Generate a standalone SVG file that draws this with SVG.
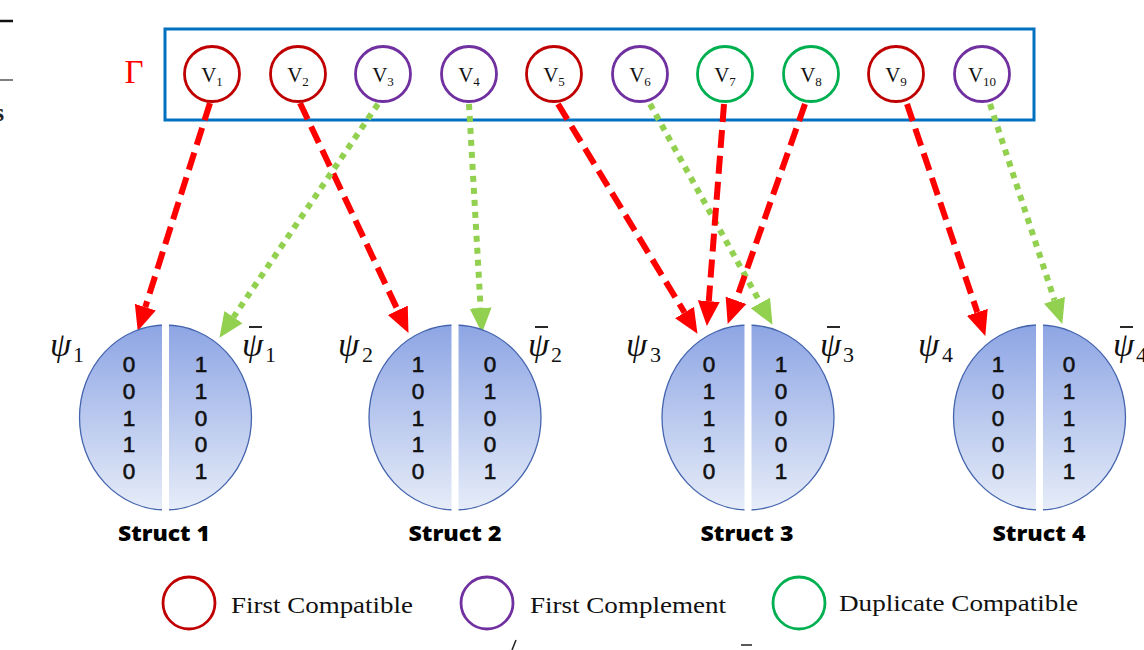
<svg xmlns="http://www.w3.org/2000/svg" width="1144" height="650" viewBox="0 0 1144 650">
<defs>
<linearGradient id="g" x1="0" y1="0" x2="0" y2="1">
<stop offset="0" stop-color="#8DA5E4"/>
<stop offset="1" stop-color="#E6ECF8"/>
</linearGradient>
<marker id="ar" markerUnits="userSpaceOnUse" markerWidth="26" markerHeight="24" viewBox="0 -12 26 24" refX="0" refY="0" orient="auto">
<path d="M0,-11 L25,0 L0,11 z" fill="#FF0000"/>
</marker>
<marker id="ag" markerUnits="userSpaceOnUse" markerWidth="26" markerHeight="24" viewBox="0 -12 26 24" refX="0" refY="0" orient="auto">
<path d="M0,-11 L25,0 L0,11 z" fill="#92D050"/>
</marker>
</defs>
<style>
.vn{fill:#fff;stroke-width:2.8}
.red{stroke:#C00000}
.pur{stroke:#7030A0}
.grn{stroke:#00B050}
.vt{font-family:"Liberation Serif",serif;font-size:21px;fill:#111}
.vs{font-size:13px}
.ra{stroke:#FF0000;stroke-width:6;stroke-dasharray:18 8;fill:none;marker-end:url(#ar)}
.ga{stroke:#92D050;stroke-width:6;stroke-dasharray:6 6;fill:none;marker-end:url(#ag)}
.ell{fill:url(#g);stroke:#4565AE;stroke-width:1.3}
.gap{fill:#fff}
.dg{font-family:"Liberation Sans",sans-serif;font-size:22.5px;fill:#111;stroke:#111;stroke-width:0.6;text-anchor:middle}
.sl{font-family:"Open Sans","Liberation Sans",sans-serif;font-size:21px;font-weight:800;fill:#000;text-anchor:middle}
.psi{font-family:"Liberation Serif","DejaVu Serif",serif;font-style:italic;font-size:34px;fill:#111}
.sub{font-family:"Liberation Serif",serif;font-size:22px;fill:#111}
.bar{stroke:#111;stroke-width:1.8}
.lg{font-family:"Liberation Serif",serif;font-size:23px;fill:#111}
</style>

<!-- page artifacts at the edges -->
<line x1="0" y1="21" x2="13" y2="21" stroke="#111" stroke-width="2.5"/>
<line x1="0" y1="80" x2="13" y2="80" stroke="#555" stroke-width="1.5"/>
<text x="-6" y="121" font-family="Liberation Serif,serif" font-size="26" font-weight="bold" fill="#222">s</text>
<line x1="516" y1="640" x2="512" y2="650" stroke="#222" stroke-width="1.5"/>
<line x1="741" y1="645" x2="752" y2="645" stroke="#222" stroke-width="1.5"/>

<!-- Gamma container -->
<g id="gamma">
<text x="134" y="83" text-anchor="middle" font-family="Liberation Serif,serif" font-size="33" fill="#FF0000">Γ</text>
<rect x="165" y="29" width="869" height="91" fill="none" stroke="#0070C0" stroke-width="3"/>
</g>

<!-- connectors -->
<g id="connectors">
<line class="ra" x1="210" y1="103" x2="145.3" y2="307.1"/>
<line class="ra" x1="300" y1="103" x2="397.8" y2="310.3"/>
<line class="ga" x1="378" y1="104" x2="233.5" y2="317.1"/>
<line class="ga" x1="469" y1="104" x2="480.6" y2="308"/>
<line class="ra" x1="558" y1="104" x2="684.5" y2="312.5"/>
<line class="ga" x1="650" y1="104" x2="760.4" y2="303"/>
<line class="ra" x1="724" y1="104" x2="708.8" y2="301.1"/>
<line class="ra" x1="805" y1="104" x2="736" y2="300.3"/>
<line class="ra" x1="907" y1="104" x2="977.3" y2="312.3"/>
<line class="ga" x1="990" y1="104" x2="1054.5" y2="300.2"/>
</g>

<!-- V nodes -->
<g id="v1"><circle class="vn red" cx="212" cy="74" r="27.5"/><text class="vt" x="212" y="82" text-anchor="middle">V<tspan class="vs" dy="4">1</tspan></text></g>
<g id="v2"><circle class="vn red" cx="298" cy="74" r="27.5"/><text class="vt" x="298" y="82" text-anchor="middle">V<tspan class="vs" dy="4">2</tspan></text></g>
<g id="v3"><circle class="vn pur" cx="383" cy="74" r="27.5"/><text class="vt" x="383" y="82" text-anchor="middle">V<tspan class="vs" dy="4">3</tspan></text></g>
<g id="v4"><circle class="vn pur" cx="469" cy="74" r="27.5"/><text class="vt" x="469" y="82" text-anchor="middle">V<tspan class="vs" dy="4">4</tspan></text></g>
<g id="v5"><circle class="vn red" cx="554" cy="74" r="27.5"/><text class="vt" x="554" y="82" text-anchor="middle">V<tspan class="vs" dy="4">5</tspan></text></g>
<g id="v6"><circle class="vn pur" cx="640" cy="74" r="27.5"/><text class="vt" x="640" y="82" text-anchor="middle">V<tspan class="vs" dy="4">6</tspan></text></g>
<g id="v7"><circle class="vn grn" cx="725" cy="74" r="27.5"/><text class="vt" x="725" y="82" text-anchor="middle">V<tspan class="vs" dy="4">7</tspan></text></g>
<g id="v8"><circle class="vn grn" cx="811" cy="74" r="27.5"/><text class="vt" x="811" y="82" text-anchor="middle">V<tspan class="vs" dy="4">8</tspan></text></g>
<g id="v9"><circle class="vn red" cx="896" cy="74" r="27.5"/><text class="vt" x="896" y="82" text-anchor="middle">V<tspan class="vs" dy="4">9</tspan></text></g>
<g id="v10"><circle class="vn pur" cx="982" cy="74" r="27.5"/><text class="vt" x="982" y="82" text-anchor="middle">V<tspan class="vs" dy="4">10</tspan></text></g>

<!-- Struct 1 -->
<g id="struct1">
<ellipse class="ell" cx="165.5" cy="417.5" rx="86" ry="92.5"/>
<rect class="gap" x="162" y="314" width="7" height="202"/>
<text class="dg"><tspan x="129" y="372">0</tspan><tspan x="129" y="399">0</tspan><tspan x="129" y="425.5">1</tspan><tspan x="129" y="452">1</tspan><tspan x="129" y="479">0</tspan></text>
<text class="dg"><tspan x="201" y="372">1</tspan><tspan x="201" y="399">1</tspan><tspan x="201" y="425.5">0</tspan><tspan x="201" y="452">0</tspan><tspan x="201" y="479">1</tspan></text>
<text class="psi" x="50" y="356">ψ</text><text class="sub" x="73" y="362">1</text>
<line class="bar" x1="249" y1="327" x2="262" y2="327"/>
<text class="psi" x="242" y="356">ψ</text><text class="sub" x="265" y="362">1</text>
<text class="sl" x="164" y="541" textLength="92" lengthAdjust="spacingAndGlyphs">Struct 1</text>
</g>

<!-- Struct 2 -->
<g id="struct2">
<ellipse class="ell" cx="455" cy="417.5" rx="86" ry="92.5"/>
<rect class="gap" x="451.5" y="314" width="7" height="202"/>
<text class="dg"><tspan x="418" y="372">1</tspan><tspan x="418" y="399">0</tspan><tspan x="418" y="425.5">1</tspan><tspan x="418" y="452">1</tspan><tspan x="418" y="479">0</tspan></text>
<text class="dg"><tspan x="490" y="372">0</tspan><tspan x="490" y="399">1</tspan><tspan x="490" y="425.5">0</tspan><tspan x="490" y="452">0</tspan><tspan x="490" y="479">1</tspan></text>
<text class="psi" x="338" y="356">ψ</text><text class="sub" x="362" y="362">2</text>
<line class="bar" x1="535" y1="327" x2="548" y2="327"/>
<text class="psi" x="528" y="356">ψ</text><text class="sub" x="551" y="362">2</text>
<text class="sl" x="455" y="541" textLength="93" lengthAdjust="spacingAndGlyphs">Struct 2</text>
</g>

<!-- Struct 3 -->
<g id="struct3">
<ellipse class="ell" cx="748" cy="417.5" rx="86" ry="92.5"/>
<rect class="gap" x="744.5" y="314" width="7" height="202"/>
<text class="dg"><tspan x="709" y="372">0</tspan><tspan x="709" y="399">1</tspan><tspan x="709" y="425.5">1</tspan><tspan x="709" y="452">1</tspan><tspan x="709" y="479">0</tspan></text>
<text class="dg"><tspan x="781" y="372">1</tspan><tspan x="781" y="399">0</tspan><tspan x="781" y="425.5">0</tspan><tspan x="781" y="452">0</tspan><tspan x="781" y="479">1</tspan></text>
<text class="psi" x="626" y="356">ψ</text><text class="sub" x="650" y="362">3</text>
<line class="bar" x1="827" y1="327" x2="840" y2="327"/>
<text class="psi" x="820" y="356">ψ</text><text class="sub" x="843" y="362">3</text>
<text class="sl" x="747" y="541" textLength="93" lengthAdjust="spacingAndGlyphs">Struct 3</text>
</g>

<!-- Struct 4 -->
<g id="struct4">
<ellipse class="ell" cx="1039.5" cy="417.5" rx="86" ry="92.5"/>
<rect class="gap" x="1036" y="314" width="7" height="202"/>
<text class="dg"><tspan x="998" y="372">1</tspan><tspan x="998" y="399">0</tspan><tspan x="998" y="425.5">0</tspan><tspan x="998" y="452">0</tspan><tspan x="998" y="479">0</tspan></text>
<text class="dg"><tspan x="1069" y="372">0</tspan><tspan x="1069" y="399">1</tspan><tspan x="1069" y="425.5">1</tspan><tspan x="1069" y="452">1</tspan><tspan x="1069" y="479">1</tspan></text>
<text class="psi" x="918" y="356">ψ</text><text class="sub" x="942" y="362">4</text>
<line class="bar" x1="1120" y1="327" x2="1133" y2="327"/>
<text class="psi" x="1113" y="356">ψ</text><text class="sub" x="1136" y="362">4</text>
<text class="sl" x="1039" y="541" textLength="93" lengthAdjust="spacingAndGlyphs">Struct 4</text>
</g>

<!-- Legend -->
<g id="legend">
<circle cx="189" cy="603" r="26" fill="#fff" stroke="#C00000" stroke-width="2.8"/>
<text class="lg" x="231" y="613" textLength="182" lengthAdjust="spacingAndGlyphs">First Compatible</text>
<circle cx="487" cy="603" r="26" fill="#fff" stroke="#7030A0" stroke-width="2.8"/>
<text class="lg" x="530" y="613" textLength="196" lengthAdjust="spacingAndGlyphs">First Complement</text>
<circle cx="799" cy="603" r="26" fill="#fff" stroke="#00B050" stroke-width="2.8"/>
<text class="lg" x="839" y="611" textLength="239" lengthAdjust="spacingAndGlyphs">Duplicate Compatible</text>
</g>
</svg>
